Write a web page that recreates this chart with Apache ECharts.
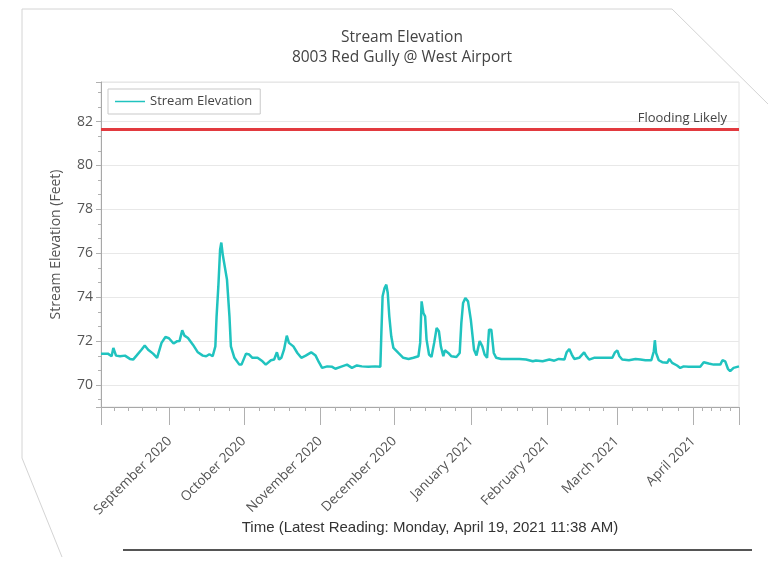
<!DOCTYPE html>
<html>
<head>
<meta charset="utf-8">
<script src="https://cdn.jsdelivr.net/npm/echarts@6/dist/echarts.min.js"></script>
<style>
html,body{margin:0;padding:0;background:#fff;}
#chart{width:771px;height:564px;}
</style>
</head>
<body>
<div id="chart"></div>
<script>
const chartTitle = 'Stream Elevation';
const chartSubtitle = '8003 Red Gully @ West Airport';
const seriesName = 'Stream Elevation';
const yAxisName = 'Stream Elevation (Feet)';
const xAxisName = 'Time (Latest Reading: Monday, April 19, 2021 11:38 AM)';
const floodLabel = 'Flooding Likely';
const floodLevel = [81.65];
const yRange = [69, 83.8];
const xRange = ['2020-08-04 05:00', '2021-04-19 11:38'];

const dates = [
'2020-08-04 05:00','2020-08-07 00:00','2020-08-08 12:00','2020-08-09 05:00','2020-08-10 07:00','2020-08-11 22:00','2020-08-13 22:00','2020-08-15 22:00','2020-08-17 05:00','2020-08-18 14:00','2020-08-20 14:00','2020-08-21 22:00','2020-08-23 07:00','2020-08-25 07:00','2020-08-26 22:00','2020-08-28 17:00','2020-08-30 07:00','2020-08-31 17:00',
'2020-09-02 14:00','2020-09-03 22:00','2020-09-05 00:00','2020-09-06 02:00','2020-09-07 00:00','2020-09-08 10:00','2020-09-10 10:00','2020-09-12 10:00','2020-09-14 10:00','2020-09-15 19:00','2020-09-17 02:00','2020-09-18 10:00','2020-09-19 12:00','2020-09-20 00:00','2020-09-20 17:00','2020-09-21 10:00','2020-09-21 22:00','2020-09-22 12:00','2020-09-23 05:00','2020-09-24 05:00','2020-09-25 05:00','2020-09-25 19:00','2020-09-27 05:00','2020-09-29 05:00','2020-09-30 02:00',
'2020-10-01 22:00','2020-10-03 05:00','2020-10-04 12:00','2020-10-06 14:00','2020-10-08 14:00','2020-10-09 22:00','2020-10-12 00:00','2020-10-13 07:00','2020-10-14 10:00','2020-10-15 07:00','2020-10-16 05:00','2020-10-17 07:00','2020-10-18 10:00','2020-10-19 07:00','2020-10-21 02:00','2020-10-22 17:00','2020-10-24 07:00','2020-10-26 02:00','2020-10-28 07:00','2020-10-30 02:00','2020-10-31 10:00',
'2020-11-01 17:00','2020-11-03 19:00','2020-11-05 19:00','2020-11-07 02:00','2020-11-09 05:00','2020-11-11 19:00','2020-11-13 19:00','2020-11-14 12:00','2020-11-15 19:00','2020-11-17 19:00','2020-11-20 12:00','2020-11-23 05:00','2020-11-25 07:00','2020-11-25 17:00','2020-11-26 05:00','2020-11-27 00:00','2020-11-27 17:00','2020-11-28 07:00','2020-11-28 22:00','2020-11-29 17:00','2020-11-30 14:00',
'2020-12-02 14:00','2020-12-04 14:00','2020-12-06 17:00','2020-12-08 17:00','2020-12-10 17:00','2020-12-11 10:00','2020-12-12 00:00','2020-12-12 17:00','2020-12-13 10:00','2020-12-14 00:00','2020-12-15 00:00','2020-12-16 00:00','2020-12-17 02:00','2020-12-18 02:00','2020-12-19 00:00','2020-12-19 19:00','2020-12-20 19:00','2020-12-21 10:00','2020-12-22 19:00','2020-12-24 02:00','2020-12-26 02:00','2020-12-27 10:00','2020-12-28 02:00','2020-12-28 19:00','2020-12-29 17:00','2020-12-30 19:00','2020-12-31 22:00',
'2021-01-02 05:00','2021-01-03 05:00','2021-01-04 12:00','2021-01-05 14:00','2021-01-06 12:00','2021-01-07 12:00','2021-01-08 07:00','2021-01-09 05:00','2021-01-10 05:00','2021-01-11 05:00','2021-01-13 05:00','2021-01-16 14:00','2021-01-20 14:00','2021-01-23 07:00','2021-01-26 00:00','2021-01-27 07:00','2021-01-30 00:00',
'2021-02-01 17:00','2021-02-03 17:00','2021-02-05 12:00','2021-02-07 19:00','2021-02-08 17:00','2021-02-09 19:00','2021-02-10 19:00','2021-02-11 19:00','2021-02-13 19:00','2021-02-15 19:00','2021-02-16 17:00','2021-02-17 19:00','2021-02-19 19:00','2021-02-22 12:00','2021-02-25 05:00','2021-02-27 05:00','2021-02-28 07:00',
'2021-03-01 05:00','2021-03-02 02:00','2021-03-03 05:00','2021-03-05 22:00','2021-03-08 14:00','2021-03-10 14:00','2021-03-12 14:00','2021-03-15 00:00','2021-03-16 00:00','2021-03-16 10:00','2021-03-16 22:00','2021-03-18 00:00','2021-03-19 10:00','2021-03-21 10:00','2021-03-22 07:00','2021-03-23 10:00','2021-03-25 10:00','2021-03-26 17:00','2021-03-28 02:00','2021-03-30 02:00',
'2021-04-01 19:00','2021-04-03 19:00','2021-04-05 05:00','2021-04-07 05:00','2021-04-09 05:00','2021-04-11 22:00','2021-04-12 19:00','2021-04-13 22:00','2021-04-15 00:00','2021-04-15 22:00','2021-04-17 07:00','2021-04-18 00:00','2021-04-19 11:38'
];

const elevations = [
71.43,71.43,71.31,71.69,71.34,71.31,71.34,71.19,71.16,71.34,71.61,71.80,71.61,71.43,71.24,71.92,72.19,72.13,
71.89,71.99,72.00,72.49,72.25,72.14,71.84,71.49,71.34,71.31,71.40,71.31,71.76,73.13,74.49,76.16,76.49,75.93,76.00,74.80,73.13,71.76,71.24,70.93,70.93,
71.43,71.39,71.24,71.24,71.08,70.93,71.13,71.16,71.49,71.16,71.24,71.61,72.25,71.92,71.76,71.46,71.24,71.34,71.49,71.34,71.04,
70.78,70.85,70.83,70.74,70.83,70.93,70.78,70.74,70.89,70.85,70.83,70.85,70.83,72.37,74.04,74.42,74.57,74.19,73.13,72.22,71.69,
71.46,71.24,71.19,71.24,71.31,71.92,73.81,73.28,73.13,72.07,71.39,71.28,71.92,72.60,72.45,71.76,71.31,71.58,71.46,71.31,71.28,71.46,72.83,73.74,73.96,73.81,72.98,
71.61,71.35,72.00,71.76,71.39,71.24,72.52,72.52,71.46,71.24,71.19,71.19,71.19,71.16,71.08,71.12,71.08,
71.16,71.11,71.19,71.16,71.49,71.64,71.39,71.19,71.24,71.49,71.31,71.16,71.24,71.24,71.24,71.24,71.49,
71.58,71.31,71.16,71.13,71.19,71.16,71.13,71.13,71.54,72.04,71.46,71.13,71.04,71.01,71.19,71.01,70.89,70.78,70.85,70.83,
70.83,70.83,71.04,70.98,70.93,70.93,71.13,71.08,70.74,70.63,70.78,70.83,70.85
];

const MONTHS = ['January','February','March','April','May','June','July','August','September','October','November','December'];

const chart = echarts.init(document.getElementById('chart'), null, {renderer: 'canvas'});
const FONT = '"Open Sans", "Noto Sans", sans-serif';

chart.setOption({
  animation: false,
  backgroundColor: '#ffffff',
  title: {
    text: chartTitle,
    subtext: chartSubtitle,
    left: 397,
    top: 25,
    textAlign: 'center',
    itemGap: 4,
    textStyle: {fontFamily: FONT, fontSize: 15.5, fontWeight: 'normal', color: '#444'},
    subtextStyle: {fontFamily: FONT, fontSize: 15.5, color: '#444'}
  },
  legend: {
    left: 108, top: 89,
    padding: [6, 8, 6, 7],
    borderColor: '#c9c9c9', borderWidth: 1,
    icon: 'rect', itemWidth: 30, itemHeight: 1.5, itemGap: 5,
    textStyle: {fontFamily: FONT, fontSize: 13, color: '#444'},
    data: [{name: seriesName, icon: 'rect'}]
  },
  grid: {
    left: 101, right: 32, top: 82, bottom: 157,
    show: true, borderColor: '#e2e2e2', borderWidth: 1
  },
  xAxis: {
    type: 'time',
    min: xRange[0], max: xRange[1],
    minInterval: 28 * 86400000,
    maxInterval: 31 * 86400000,
    name: xAxisName,
    nameLocation: 'middle',
    nameGap: 113,
    nameMoveOverlap: false,
    nameTextStyle: {fontFamily: '"Liberation Sans", Arial, sans-serif', fontSize: 15, color: '#333', padding: [0, 0, 0, 20]},
    axisLine: {show: true, lineStyle: {color: '#a8a8a8', width: 1}},
    axisTick: {show: true, length: 18, lineStyle: {color: '#b0b0b0'}},
    minorTick: {show: true, splitNumber: 5, length: 4, lineStyle: {color: '#b0b0b0'}},
    splitLine: {show: false},
    axisLabel: {
      rotate: 45, margin: 32,
      fontFamily: FONT, fontSize: 13.5, color: '#555',
      hideOverlap: false,
      formatter: function (v) { const d = new Date(v); return MONTHS[d.getMonth()] + ' ' + d.getFullYear(); }
    }
  },
  yAxis: {
    type: 'value',
    min: yRange[0], max: yRange[1],
    splitNumber: 7,
    name: yAxisName,
    nameLocation: 'middle',
    nameGap: 38,
    nameTextStyle: {fontFamily: FONT, fontSize: 14, color: '#555'},
    axisLine: {show: true, lineStyle: {color: '#a8a8a8', width: 1}},
    axisTick: {show: true, length: 5, lineStyle: {color: '#b0b0b0'}},
    minorTick: {show: true, splitNumber: 3, length: 3, lineStyle: {color: '#b0b0b0'}},
    splitLine: {show: true, lineStyle: {color: '#e8e8e8', width: 1}},
    axisLabel: {
      showMinLabel: false, showMaxLabel: false, margin: 8,
      fontFamily: FONT, fontSize: 14, color: '#555',
      formatter: function (v) { return (Math.round(v) === v && v % 2 === 0) ? String(v) : ''; }
    }
  },
  series: [{
    name: seriesName,
    type: 'line',
    showSymbol: false,
    symbol: 'none',
    color: '#20c3bf',
    lineStyle: {color: '#20c3bf', width: 2.5},
    data: dates.map((d, i) => [d, elevations[i]]),
    markLine: {
      silent: true,
      symbol: ['none', 'none'],
      lineStyle: {color: '#e23a3f', width: 3, type: 'solid'},
      label: {show: true, position: 'insideEndTop', formatter: floodLabel, fontFamily: FONT, fontSize: 13, color: '#444', distance: 4, padding: [0, 8, 0, 0]},
      data: floodLevel.map(v => ({yAxis: v}))
    }
  }],
  graphic: [
    {type: 'polyline', silent: true, shape: {points: [[62, 557], [22, 458], [22, 9], [672, 9], [768, 104]]}, style: {stroke: '#d4d4d4', lineWidth: 1, fill: null}},
    {type: 'line', silent: true, shape: {x1: 123, y1: 550, x2: 752, y2: 550}, style: {stroke: '#555', lineWidth: 2}}
  ]
});
</script>
</body>
</html>
